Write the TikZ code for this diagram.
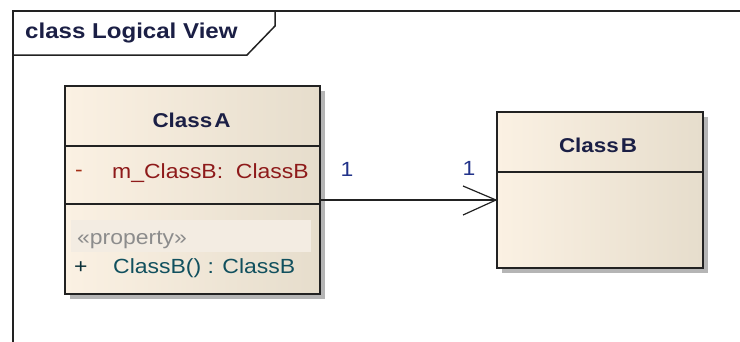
\documentclass[tikz,border=0pt]{standalone}
\usepackage{fontspec}
\setmainfont{Liberation Sans}[FakeStretch=1.12]
\usetikzlibrary{shadows,calc}
\definecolor{boxleft}{HTML}{FBF1E3}
\definecolor{boxright}{HTML}{E6DDCC}
\definecolor{propfill}{HTML}{F3ECE2}
\definecolor{framecol}{HTML}{222222}
\definecolor{namecol}{HTML}{1B1F45}
\definecolor{attrcol}{HTML}{8E1A1A}
\definecolor{opcol}{HTML}{11505E}
\definecolor{stereocol}{HTML}{8C8C8C}
\definecolor{multcol}{HTML}{22338A}
\definecolor{shadowcol}{HTML}{B5B5B5}
\tikzset{
  classbox/.style={draw=framecol, line width=1.5pt, anchor=north west,
    left color=boxleft, right color=boxright, shading angle=90,
    drop shadow={shadow xshift=5pt, shadow yshift=-5pt, fill=shadowcol, opacity=1}},
  sep/.style={draw=framecol, line width=1.5pt},
  txt/.style={inner sep=0pt, font=\fontsize{20.5}{24}\selectfont},
  clsname/.style={txt, font=\fontsize{20}{24}\selectfont\bfseries, text=namecol},
  attr/.style={txt, anchor=west, text=attrcol},
  oper/.style={txt, anchor=west, text=opcol},
  stereo/.style={txt, anchor=west, text=stereocol},
  mult/.style={txt, text=multcol},
  framelines/.style={draw=framecol, line width=1.5pt},
}
\begin{document}
\begin{tikzpicture}[x=1pt, y=-1pt]
\useasboundingbox (0,0) rectangle (740,341);
\fill[white] (0,0) rectangle (740,341);
% frame
\coordinate (fbl) at (13,345);
\coordinate (ftl) at (13,11);
\coordinate (ftr) at (745,11);
\coordinate (tabl) at (13,55);
\coordinate (tabb) at (247,55);
\coordinate (tabd) at (275,26);
\coordinate (tabt) at (275,11);
\draw[framelines] (fbl) -- (ftl) -- (ftr);
\draw[framelines] (tabl) -- (tabb) -- (tabd) -- (tabt);
\node[txt, font=\fontsize{21.5}{24}\selectfont\bfseries, text=namecol, anchor=west] (title) at (25,33) {class Logical View};
% Class A
\node[classbox, minimum width=255pt, minimum height=208pt] (A) at (64,85) {};
\coordinate (ah) at (0,146);
\coordinate (aa) at (0,204);
\draw[sep] (A.west |- ah) -- (A.east |- ah);
\draw[sep] (A.west |- aa) -- (A.east |- aa);
\node[clsname] (An) at (191.5,120) {Class\kern2pt A};
\node[attr, text=attrcol!80!orange] (Aminus) at (75,173) {-};
\node[attr] (Am) at (112,173) {m\_ClassB:\ \ ClassB};
\node[fill=propfill, inner sep=0pt, minimum width=240pt, minimum height=32pt, anchor=north west] (Ap) at (71,220) {};
\node[stereo] (As) at (77,240) {«property»};
\node[oper, text=opcol!60!black] (Aplus) at (74,268) {+};
\node[oper] (Ao) at (113,268) {ClassB() : ClassB};
% Class B
\node[classbox, minimum width=206pt, minimum height=156pt] (B) at (496,111) {};
\coordinate (bh) at (0,172);
\draw[sep] (B.west |- bh) -- (B.east |- bh);
\node[clsname] (Bn) at (598,145) {Class\kern2pt B};
% association
\coordinate (arr) at (400,200);
\draw[line width=1.2pt, draw=framecol] (A.east |- arr) -- (B.west |- arr);
\draw[line width=1.2pt, draw=framecol] (B.west |- arr) -- ++(-33,-14);
\draw[line width=1.2pt, draw=framecol] (B.west |- arr) -- ++(-33,15);
\node[mult] (m1) at (347,169) {1};
\node[mult] (m2) at (469,168) {1};
\end{tikzpicture}
\end{document}
